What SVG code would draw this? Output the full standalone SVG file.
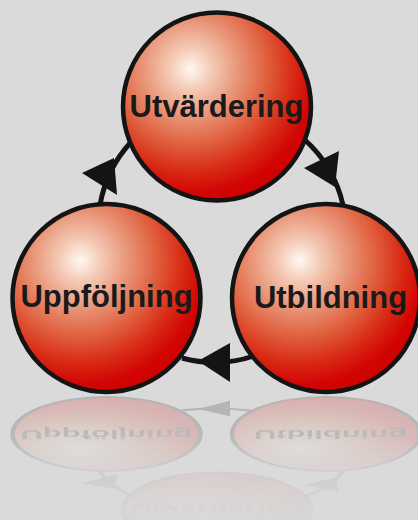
<svg xmlns="http://www.w3.org/2000/svg" xmlns:xlink="http://www.w3.org/1999/xlink" width="418" height="520" viewBox="0 0 418 520">
<style>
.ball{stroke:#141414;stroke-width:4.5;fill:url(#sphere)}
.lbl{font-family:"Liberation Sans",Arial,sans-serif;font-weight:bold;font-size:31px;fill:#1a1a1a;text-anchor:middle}
.conn{fill:none;stroke:#141414;stroke-width:5}
.head{fill:#141414}
</style>
<defs>
<radialGradient id="sphere" cx="0.36" cy="0.3" fx="0.36" fy="0.3" r="0.78">
<stop offset="0" stop-color="#fff8f3"/>
<stop offset="0.14" stop-color="#f4cbb6"/>
<stop offset="0.32" stop-color="#e9977a"/>
<stop offset="0.52" stop-color="#e0603e"/>
<stop offset="0.7" stop-color="#d82a14"/>
<stop offset="0.85" stop-color="#d20404"/>
<stop offset="1" stop-color="#cc0000"/>
</radialGradient>
<linearGradient id="fadeGrad" gradientUnits="userSpaceOnUse" x1="0" y1="394" x2="0" y2="520">
<stop offset="0" stop-color="#fff" stop-opacity="0.2"/>
<stop offset="0.35" stop-color="#fff" stop-opacity="0.16"/>
<stop offset="0.6" stop-color="#fff" stop-opacity="0.06"/>
<stop offset="1" stop-color="#fff" stop-opacity="0.02"/>
</linearGradient>
<mask id="fade" maskUnits="userSpaceOnUse" x="0" y="394" width="418" height="126">
<rect x="0" y="394" width="418" height="126" fill="url(#fadeGrad)"/>
</mask>
</defs>
<rect width="418" height="520" fill="#dadada"/>
<g id="scene">
<g id="connectors">
<path class="conn" d="M100,205 A125,125 0 0 1 131,142"/>
<polygon class="head" points="114,158 82,173 117,195"/>
<path class="conn" d="M305,140 A125,125 0 0 1 343,205"/>
<polygon class="head" points="335,187 304,168 339,151"/>
<path class="conn" d="M254,356 A125,125 0 0 1 182,358"/>
<polygon class="head" points="198,361 230,343 230,382"/>
</g>
<g id="node-utvardering">
<circle class="ball" cx="217" cy="106.5" r="94"/>
<text class="lbl" x="216.5" y="117">Utvärdering</text>
</g>
<g id="node-utbildning">
<circle class="ball" cx="326" cy="298" r="94"/>
<text class="lbl" x="330.5" y="308">Utbildning</text>
</g>
<g id="node-uppfoljning">
<circle class="ball" cx="106.5" cy="298" r="94"/>
<text class="lbl" x="106.5" y="307">Uppföljning</text>
</g>
</g>
<g id="reflection" mask="url(#fade)">
<use xlink:href="#scene" href="#scene" transform="matrix(1 0 0 -0.394 0 551.3)"/>
</g>
</svg>
